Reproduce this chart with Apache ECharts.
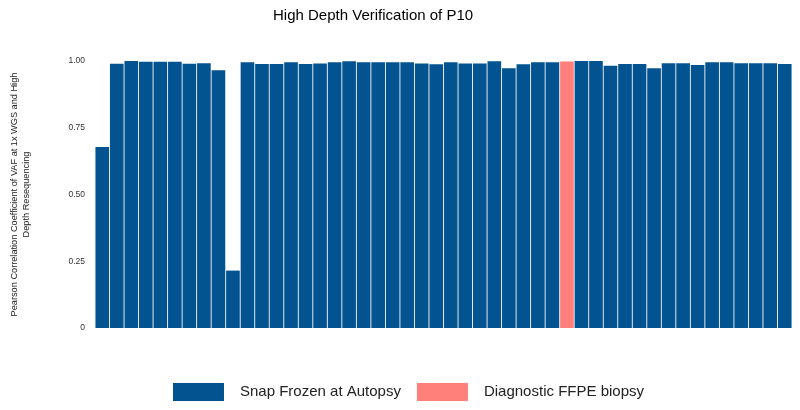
<!DOCTYPE html>
<html>
<head>
<meta charset="utf-8">
<script src="https://cdn.jsdelivr.net/npm/echarts@6/dist/echarts.min.js"></script>
<style>html,body{margin:0;padding:0;background:#fff;}#c{width:800px;height:410px;}</style>
</head>
<body>
<div id="c"></div>
<script>
const samples = Array.from({length: 48}, (_, i) => 'S' + (i + 1));
const correlations = [0.678, 0.99, 1.0, 0.997, 0.997, 0.997, 0.99, 0.992, 0.965, 0.215,
  0.995, 0.989, 0.989, 0.995, 0.989, 0.991, 0.995, 0.999, 0.995, 0.995,
  0.995, 0.995, 0.991, 0.988, 0.995, 0.991, 0.991, 0.999, 0.973, 0.988,
  0.995, 0.995, 0.998, 1.0, 1.0, 0.982, 0.989, 0.989, 0.973, 0.992,
  0.992, 0.985, 0.995, 0.995, 0.992, 0.992, 0.992, 0.989];
const sampleTypes = samples.map((_, i) => i === 32 ? 'Diagnostic FFPE biopsy' : 'Snap Frozen at Autopsy');
const yTicks = [0, 0.25, 0.5, 0.75, 1.0];
const yTickLabels = ['0', '0.25', '0.50', '0.75', '1.00'];
const seriesNames = ['Snap Frozen at Autopsy', 'Diagnostic FFPE biopsy'];
const seriesColors = ['#02538F', '#FF7F7B'];

const font = "'Liberation Sans', Arial, Helvetica, sans-serif";
const chart = echarts.init(document.getElementById('c'));
chart.setOption({
  animation: false,
  backgroundColor: '#fff',
  title: {
    text: 'High Depth Verification of P10',
    left: 268, top: 3,
    textStyle: {fontFamily: font, fontSize: 15, fontWeight: 'normal', color: '#000'}
  },
  legend: {
    data: seriesNames,
    left: 168, top: 378,
    itemWidth: 51, itemHeight: 18, itemGap: 16,
    icon: 'rect',
    textStyle: {fontFamily: font, fontSize: 15, color: '#222', padding: [0, 0, 0, 11]}
  },
  grid: {left: 93, right: 8, top: 61, bottom: 82, containLabel: false},
  xAxis: {
    type: 'category', data: samples,
    axisLine: {show: false}, axisTick: {show: false}, axisLabel: {show: false}, splitLine: {show: false}
  },
  yAxis: {
    type: 'value', min: 0, max: 1, interval: 0.25,
    name: 'Pearson Correlation Coefficient of VAF at 1x WGS and High\nDepth Resequencing',
    nameLocation: 'middle', nameGap: 63, nameRotate: 90,
    nameTextStyle: {fontFamily: font, fontSize: 9.2, color: '#222', lineHeight: 12, align: 'center'},
    axisLine: {show: false}, axisTick: {show: false}, splitLine: {show: false},
    axisLabel: {
      fontFamily: font, fontSize: 8.5, color: '#333', margin: 10,
      formatter: v => { const i = yTicks.findIndex(t => Math.abs(t - v) < 1e-9); return i >= 0 ? yTickLabels[i] : ''; }
    }
  },
  series: seriesNames.map((name, k) => ({
    name: name, type: 'bar', stack: 'all',
    barCategoryGap: '6%',
    itemStyle: {color: seriesColors[k]},
    data: correlations.map((v, i) => sampleTypes[i] === name ? v : '-')
  }))
});
</script>
</body>
</html>
